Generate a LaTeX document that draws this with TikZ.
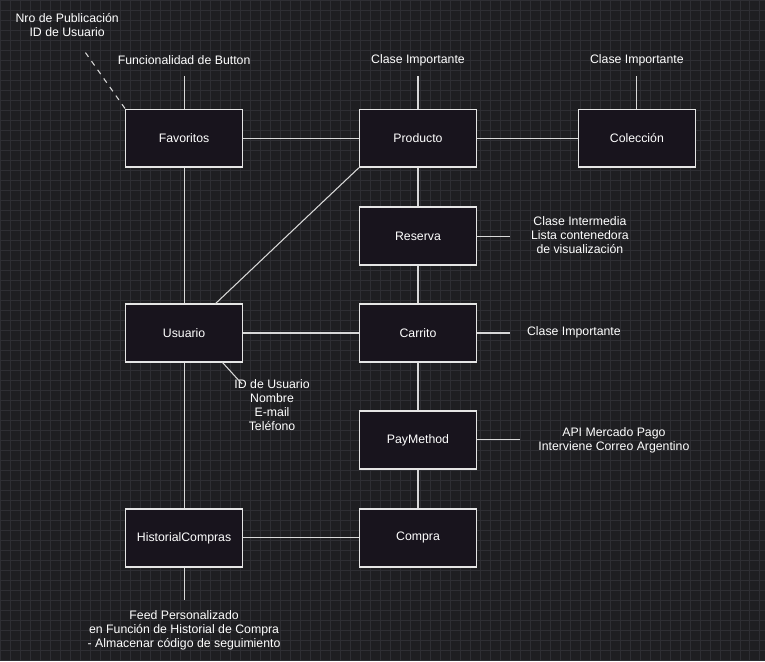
\documentclass[tikz,border=0pt]{standalone}
\usepackage{fontspec}
\setmainfont{Liberation Sans}
\definecolor{bgdark}{HTML}{1E1E21}
\definecolor{boxfill}{HTML}{18141D}
\definecolor{gridc}{HTML}{2E2E33}
\begin{document}
\begin{tikzpicture}[x=0.02cm,y=-0.02cm,thick,
  clase/.style={draw=white!90!black,fill=boxfill,line width=0.7pt,minimum width=2.34cm,minimum height=1.16cm,text=white,font=\fontsize{7}{8}\selectfont},
  nota/.style={text=white,align=center,font=\fontsize{7}{8}\selectfont},
  enlace/.style={draw=white!85!black,line width=0.6pt}]

  \fill[bgdark] (0,0) rectangle (765,661);
  \draw[gridc,line width=0.2pt,step=0.2cm] (0,0) grid (765,661);
  \useasboundingbox (0,0) rectangle (765,661);

  \node[clase] (fav) at (184,138) {Favoritos};
  \node[clase] (prod) at (418,138) {Producto};
  \node[clase] (col) at (637,138) {Colección};
  \node[clase] (res) at (418,236) {Reserva};
  \node[clase] (usr) at (184,333) {Usuario};
  \node[clase] (car) at (418,333) {Carrito};
  \node[clase] (pay) at (418,440) {PayMethod};
  \node[clase] (hist) at (184,538) {HistorialCompras};
  \node[clase] (comp) at (418,538) {Compra};

  \node[nota] (nfav) at (184,60) {Funcionalidad de Button};
  \node[nota] (npub) at (67,25) {Nro de Publicación\\ID de Usuario};
  \node[nota] (nprod) at (418,60) {Clase Importante};
  \node[nota] (ncol) at (637,60) {Clase Importante};
  \node[nota] (nres) at (580,235) {Clase Intermedia\\Lista contenedora\\de visualización};
  \node[nota] (ncar) at (574,332) {Clase Importante};
  \node[nota] (npay) at (614,440) {API Mercado Pago\\Interviene Correo Argentino};
  \node[nota] (nusr) at (272,405) {ID de Usuario\\Nombre\\E-mail\\Teléfono};
  \node[nota] (nhist) at (184,630) {Feed Personalizado\\en Función de Historial de Compra\\- Almacenar código de seguimiento};

  \coordinate (cfav) at (184,76);
  \coordinate (cpub) at (85,52);
  \coordinate (cprod) at (418,76);
  \coordinate (ccol) at (637,76);
  \coordinate (cres) at (510,236);
  \coordinate (ccar) at (510,333);
  \coordinate (cpay) at (520,440);
  \coordinate (cusr) at (242,384);
  \coordinate (chist) at (184,600);

  \draw[enlace] (fav) -- (prod);
  \draw[enlace] (prod) -- (col);
  \draw[enlace] (fav) -- (usr);
  \draw[enlace] (prod.south west) -- (215,304);
  \draw[enlace] (prod) -- (res);
  \draw[enlace] (res) -- (car);
  \draw[enlace] (usr) -- (car);
  \draw[enlace] (car) -- (pay);
  \draw[enlace] (pay) -- (comp);
  \draw[enlace] (hist) -- (comp);
  \draw[enlace] (usr) -- (hist);

  \draw[enlace] (fav.north) -- (cfav);
  \draw[enlace,dashed] (fav.north west) -- (cpub);
  \draw[enlace] (prod.north) -- (cprod);
  \draw[enlace] (col.north) -- (ccol);
  \draw[enlace] (res.east) -- (cres);
  \draw[enlace] (car.east) -- (ccar);
  \draw[enlace] (pay.east) -- (cpay);
  \draw[enlace] (222,362) -- (cusr);
  \draw[enlace] (hist.south) -- (chist);
\end{tikzpicture}
\end{document}
